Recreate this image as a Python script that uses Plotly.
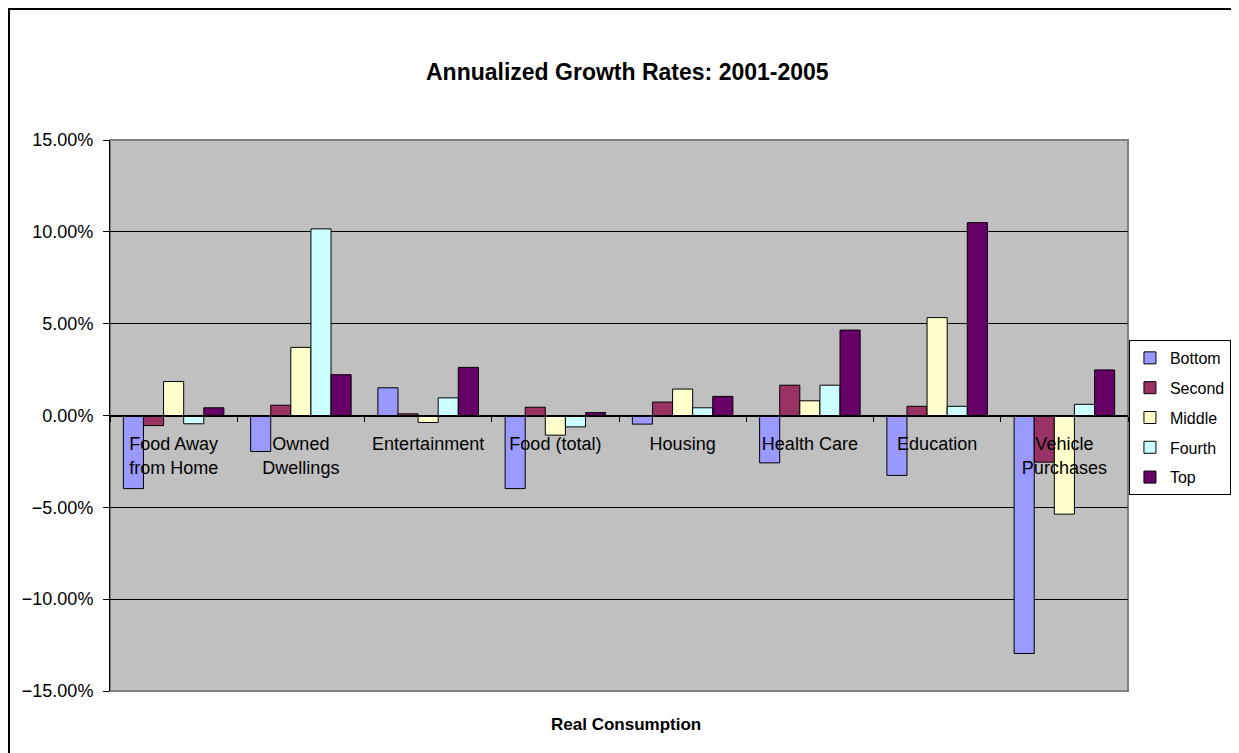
import plotly.graph_objects as go

categories = ["Food Away<br>from Home", "Owned<br>Dwellings", "Entertainment", "Food (total)",
              "Housing", "Health Care", "Education", "Vehicle<br>Purchases"]

bottom = [-3.98, -1.96, 1.51, -3.98, -0.47, -2.58, -3.26, -12.96]
second = [-0.55, 0.56, 0.09, 0.45, 0.73, 1.65, 0.50, -2.54]
middle = [1.85, 3.71, -0.38, -1.07, 1.44, 0.80, 5.33, -5.37]
fourth = [-0.45, 10.16, 0.96, -0.62, 0.42, 1.65, 0.50, 0.61]
top = [0.42, 2.22, 2.62, 0.16, 1.04, 4.65, 10.50, 2.48]

series = [("Bottom", bottom, "#9999FF"),
          ("Second", second, "#993366"),
          ("Middle", middle, "#FFFFCC"),
          ("Fourth", fourth, "#CCFFFF"),
          ("Top", top, "#660066")]

font = "Liberation Sans, Arial, sans-serif"

fig = go.Figure()
for name, vals, color in series:
    fig.add_trace(go.Bar(
        name=name,
        x=categories,
        y=[v / 100 for v in vals],
        marker=dict(color=color, line=dict(color="black", width=1)),
        legendgroup=name,
    ))

# the page body adds an 8px margin, so the figure is sized to fit inside it
fig.update_layout(
    width=1231,
    height=745,
    margin=dict(l=102, r=111, t=132, b=62, autoexpand=False),
    paper_bgcolor="white",
    plot_bgcolor="#C0C0C0",
    font=dict(family=font, size=18, color="black"),
    barmode="group",
    bargap=0.21,
    bargroupgap=0,
    showlegend=True,
    legend=dict(
        xref="container", yref="container",
        x=0.9106, y=0.5544, xanchor="left", yanchor="top",
        bordercolor="black", borderwidth=1, bgcolor="white",
        font=dict(size=16), traceorder="grouped", tracegroupgap=6,
        itemwidth=30,
    ),
    xaxis=dict(
        type="category",
        anchor="free",
        position=0.5,
        showline=True, linecolor="black", linewidth=1,
        ticks="outside", tickson="boundaries", ticklen=5, tickcolor="black",
        ticklabelstandoff=12,
        showgrid=False,
        tickfont=dict(size=18),
    ),
    yaxis=dict(
        range=[-0.15, 0.15],
        tickvals=[-0.15, -0.10, -0.05, 0, 0.05, 0.10, 0.15],
        tickformat=".2%",
        ticks="outside", ticklen=6, tickcolor="black",
        ticklabelstandoff=6,
        showline=True, linecolor="black", linewidth=1,
        showgrid=True, gridcolor="black", gridwidth=1,
        zeroline=False,
        tickfont=dict(size=18),
    ),
    shapes=[
        # plot area border
        dict(type="rect", xref="paper", yref="paper", x0=0, x1=1, y0=0, y1=1,
             line=dict(color="#808080", width=2), layer="below"),
        # outer chart frame
        dict(type="rect", xref="paper", yref="paper", x0=-0.0992, x1=1.13, y0=-0.2, y1=1.2377,
             line=dict(color="black", width=2)),
    ],
    annotations=[
        dict(text="<b>Annualized Growth Rates: 2001-2005</b>", xref="paper", yref="paper",
             x=0.508, y=1.1234, xanchor="center", yanchor="middle",
             showarrow=False, font=dict(size=23)),
        dict(text="<b>Real Consumption</b>", xref="paper", yref="paper",
             x=0.507, y=-0.0617, xanchor="center", yanchor="middle",
             showarrow=False, font=dict(size=17)),
    ],
)

fig.write_html("out.html")
